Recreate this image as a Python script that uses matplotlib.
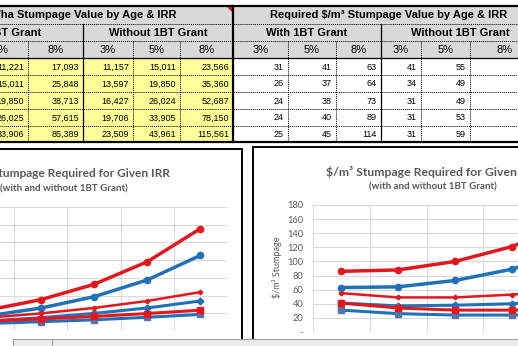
import matplotlib
matplotlib.use('Agg')
import matplotlib.pyplot as plt
from matplotlib import font_manager
from matplotlib.patches import Rectangle, Polygon
from matplotlib.ticker import FuncFormatter, MultipleLocator

# ---- data ----
irr_labels = ['3%', '5%', '8%']
group_labels = ['With 1BT Grant', 'Without 1BT Grant']

# $/ha stumpage (with 3% column is off screen, estimated from $/m3 x volume)
ha_with_3 = [8450, 10480, 12670, 15480, 18730]
ha_with_5 = [11221, 15011, 19850, 26025, 33906]
ha_with_8 = [17093, 25848, 38713, 57615, 85389]
ha_wo_3 = [11157, 13597, 16427, 19706, 23509]
ha_wo_5 = [15011, 19850, 26024, 33905, 43961]
ha_wo_8 = [23566, 35360, 52687, 78150, 115561]

# $/m3 stumpage
m3_with_3 = [31, 26, 24, 24, 25]
m3_with_5 = [41, 37, 38, 40, 45]
m3_with_8 = [63, 64, 73, 89, 114]
m3_wo_3 = [41, 34, 31, 31, 31]
m3_wo_5 = [55, 49, 49, 53, 59]
m3_wo_8 = [86, 88, 100, 121, 154]

ages = [0, 1, 2, 3, 4]   # category slots (labels hidden under the bar)


def pick(*names):
    for n in names:
        try:
            font_manager.findfont(font_manager.FontProperties(family=n),
                                  fallback_to_default=False)
            return n
        except ValueError:
            pass
    return 'DejaVu Sans'


TFONT = pick('Liberation Sans', 'Arial')
NFONT = pick('Liberation Sans Narrow', 'Arial Narrow')
NSIZE = 7.3 if NFONT != 'DejaVu Sans' else 6.5
if NFONT == 'DejaVu Sans':
    NFONT = TFONT
CFONT = pick('Lato', 'Open Sans')

W, H = 518, 346
fig = plt.figure(figsize=(W / 100, H / 100), dpi=100)
bg = fig.add_axes([0, 0, 1, 1])
bg.set_xlim(0, W)
bg.set_ylim(H, 0)
bg.axis('off')


def px_axes(x0, y0, x1, y1, **kw):
    return fig.add_axes([x0 / W, 1 - y1 / H, (x1 - x0) / W, (y1 - y0) / H], **kw)


# ---- table ----
row_edges = [6, 24, 41, 58, 75, 92, 109, 126, 142]
lcols = [-82, -27, 28, 83, 133, 180, 233]
rcols = [233, 288, 336, 381, 421, 470, 540]
HDR = '#D9D9D9'
YEL = '#FFFF99'

bg.add_patch(Rectangle((0, 6), W, 52, fc=HDR, ec='none'))
bg.add_patch(Rectangle((0, 58), 233, 84, fc=YEL, ec='none'))

dot = dict(color='black', lw=0.7, ls=(0, (1, 1)))
for y in [24, 41, 75, 92, 109, 126]:
    bg.plot([0, W], [y, y], **dot)
bg.plot([0, W], [6, 6], color='black', lw=1.6)
bg.plot([0, W], [58, 58], color='black', lw=0.9)
bg.plot([0, W], [142, 142], color='black', lw=1.6)
bg.plot([233, 233], [6, 142], color='black', lw=1.6)
for x in [lcols[3], rcols[3]]:
    bg.plot([x, x], [24, 142], color='black', lw=0.9)
for x in [lcols[1], lcols[2], lcols[4], lcols[5], rcols[1], rcols[2], rcols[4], rcols[5]]:
    bg.plot([x, x], [41, 142], **dot)

bg.add_patch(Polygon([[226, 6], [233, 6], [233, 13]], closed=True, fc='#D81E1E', ec='none'))

bold = dict(family=TFONT, fontsize=8, fontweight='bold', va='center')
bg.text(177, 15.5, 'Required $/ha Stumpage Value by Age & IRR', ha='right', **bold)
bg.text(389, 15.5, 'Required $/m³ Stumpage Value by Age & IRR', ha='center', **bold)
for cols in (lcols, rcols):
    bg.text((cols[0] + cols[3]) / 2, 33, group_labels[0], ha='center', **bold)
    bg.text((cols[3] + cols[6]) / 2, 33, group_labels[1], ha='center', **bold)
    for i in range(6):
        bg.text((cols[i] + cols[i + 1]) / 2, 50, irr_labels[i % 3], ha='center',
                va='center', family=TFONT, fontsize=8)

ha_cols = [ha_with_3, ha_with_5, ha_with_8, ha_wo_3, ha_wo_5, ha_wo_8]
m3_cols = [m3_with_3, m3_with_5, m3_with_8, m3_wo_3, m3_wo_5, m3_wo_8]
for cols, table in ((lcols, ha_cols), (rcols, m3_cols)):
    for i, col in enumerate(table):
        for r, v in enumerate(col):
            yc = (row_edges[r + 3] + row_edges[r + 4]) / 2 + 0.5
            bg.text(cols[i + 1] - 4, yc, f'{v:,}', ha='right', va='center',
                    family=NFONT, fontsize=NSIZE)

# ---- chart boxes ----
bg.add_patch(Rectangle((-114, 149), 356, 230, fc='white', ec='black', lw=1.4))
bg.add_patch(Rectangle((253, 147), 360, 230, fc='white', ec='black', lw=1.4))

TGRAY = '#595959'
bg.text(170, 173, '$/ha Stumpage Required for Given IRR', ha='right', va='center',
        family=CFONT, fontsize=8.6, fontweight='bold', color=TGRAY)
bg.text(64, 189, '(with and without 1BT Grant)', ha='center', va='center',
        family=CFONT, fontsize=7, fontweight='bold', color=TGRAY)
bg.text(433, 172, '$/m³ Stumpage Required for Given IRR', ha='center', va='center',
        family=CFONT, fontsize=8.8, fontweight='bold', color=TGRAY)
bg.text(433, 187, '(with and without 1BT Grant)', ha='center', va='center',
        family=CFONT, fontsize=7, fontweight='bold', color=TGRAY)
bg.text(277, 267, '$/m³ Stumpage', ha='center', va='center', rotation=90,
        family=CFONT, fontsize=6.5, color=TGRAY)

RED = '#E2181E'
BLUE = '#2072B8'
SLATE = '#5375AC'


def draw_chart(ax, series, ymax, step, fmt):
    ax.set_facecolor('none')
    for vals, color, marker, ms, lw, mfc in series:
        ax.plot(ages, vals, color=color, lw=lw, marker=marker, ms=ms,
                mfc=mfc, mec=mfc, solid_capstyle='round', clip_on=False)
    ax.set_xlim(-0.5, 4.5)
    ax.set_ylim(0, ymax)
    ax.yaxis.set_major_locator(MultipleLocator(step))
    ax.set_xticks([i - 0.5 for i in range(6)], minor=True)
    ax.set_xticks([])
    ax.grid(True, which='major', axis='y', color='#D9D9D9', lw=0.75)
    ax.grid(True, which='minor', axis='x', color='#D9D9D9', lw=0.75)
    ax.tick_params(which='both', length=0)
    ax.tick_params(axis='y', pad=7, labelsize=6.7, labelcolor=TGRAY)
    for lab in ax.get_yticklabels():
        lab.set_family(CFONT)
    ax.yaxis.set_major_formatter(FuncFormatter(fmt))
    for s in ax.spines.values():
        s.set_visible(False)
    ax.set_axisbelow(True)


left_series = [
    (ha_with_3, BLUE, 's', 4.5, 2.2, SLATE),
    (ha_with_5, BLUE, 'D', 3.5, 2.2, BLUE),
    (ha_with_8, BLUE, 'o', 4.5, 2.5, BLUE),
    (ha_wo_3, RED, 's', 4.5, 2.2, RED),
    (ha_wo_5, RED, 'P', 3.0, 1.8, RED),
    (ha_wo_8, RED, 'o', 4.5, 2.5, RED),
]
right_series = [
    (m3_with_3, BLUE, 's', 4.5, 2.2, SLATE),
    (m3_with_5, BLUE, 'D', 3.5, 2.2, BLUE),
    (m3_with_8, BLUE, 'o', 4.5, 2.5, BLUE),
    (m3_wo_3, RED, 's', 4.5, 2.2, RED),
    (m3_wo_5, RED, 'P', 3.0, 1.8, RED),
    (m3_wo_8, RED, 'o', 4.5, 2.5, RED),
]

axl = px_axes(-39, 207, 227, 331)
draw_chart(axl, left_series, 140000, 20000,
           lambda v, p: '-' if v == 0 else f'{int(v):,}')
axr = px_axes(313, 205, 597, 332)
draw_chart(axr, right_series, 180, 20,
           lambda v, p: '-' if v == 0 else f'{int(v)}')

# ---- grey bar overlapping the bottom ----
top = fig.add_axes([0, 0, 1, 1], zorder=10)
top.set_xlim(0, W)
top.set_ylim(H, 0)
top.axis('off')
top.patch.set_alpha(0)
top.add_patch(Rectangle((13, 339), W, 20, fc='#ECECEC', ec='#A0A0A0', lw=0.8))
top.plot([52, 52], [339, 346], color='#A0A0A0', lw=0.8)

fig.savefig('out.png', dpi=100)
